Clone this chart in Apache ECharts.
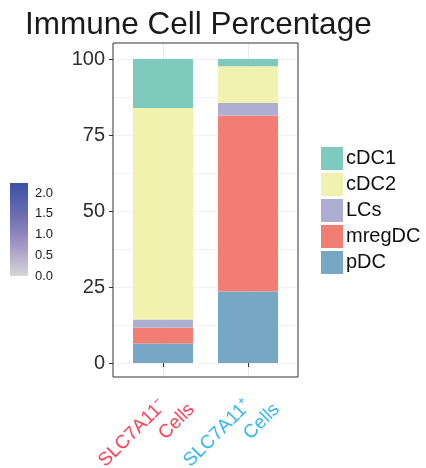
<!DOCTYPE html>
<html>
<head>
<meta charset="utf-8">
<script src="https://cdn.jsdelivr.net/npm/echarts@6/dist/echarts.min.js"></script>
<style>
  html, body { margin: 0; padding: 0; background: #ffffff; }
  #chart { width: 426px; height: 468px; }
</style>
</head>
<body>
<div id="chart"></div>
<script>
// Sample groups on the x axis (first line, second line)
const groupNames = ['SLC7A11\u207B', 'SLC7A11\u207A'];
const groupSuffix = 'Cells';
const groupColors = ['#FF3F55', '#33B6F2'];

// Cell type shares (%) per group, stacked bottom to top
const pDC    = [6.4, 23.5];
const mregDC = [5.2, 57.9];
const LCs    = [2.7, 4.1];
const cDC2   = [69.6, 12.1];
const cDC1   = [16.1, 2.4];

// Axis ticks
const yTicks = [0, 25, 50, 75, 100];
const colorbarTicks = [0, 0.5, 1, 1.5, 2];

const cellTypes = [
  { name: 'pDC',    values: pDC,    color: '#76A8C5' },
  { name: 'mregDC', values: mregDC, color: '#F27D72' },
  { name: 'LCs',    values: LCs,    color: '#AEAED2' },
  { name: 'cDC2',   values: cDC2,   color: '#F1F2AE' },
  { name: 'cDC1',   values: cDC1,   color: '#7ECBBD' }
];

const FONT = 'Liberation Sans, Arial, Helvetica, sans-serif';

const chart = echarts.init(document.getElementById('chart'), null, { renderer: 'canvas' });

const option = {
  animation: false,
  backgroundColor: '#ffffff',
  title: {
    text: 'Immune Cell Percentage',
    left: 20,
    top: 4,
    textStyle: { fontFamily: FONT, fontSize: 31.5, fontWeight: 'normal', color: '#1a1a1a' }
  },
  legend: {
    orient: 'vertical',
    left: 321,
    top: 147,
    padding: 0,
    itemWidth: 22,
    itemHeight: 23,
    itemGap: 3,
    icon: 'rect',
    data: ['cDC1', 'cDC2', 'LCs', 'mregDC', 'pDC'],
    textStyle: { fontFamily: FONT, fontSize: 20, color: '#111111', padding: [0, 0, 0, -2] }
  },
  grid: [
    // 0: panel border
    { left: 113, top: 43, width: 185, height: 334, outerBoundsMode: 'none', show: true, borderColor: '#333333', borderWidth: 1, backgroundColor: 'transparent', z: 5 },
    // 1: y scale 0..100 with labels and horizontal grid lines
    { left: 113, top: 59, width: 185, height: 304, outerBoundsMode: 'none' },
    // 2: bars and category axis
    { left: 163, top: 43, width: 85, height: 334, outerBoundsMode: 'none' },
    // 3: colour bar
    {
      left: 10, top: 183, width: 18, height: 93, outerBoundsMode: 'none', show: true, borderWidth: 0,
      backgroundColor: new echarts.graphic.LinearGradient(0, 0, 0, 1, [
        { offset: 0, color: '#3A52A4' },
        { offset: 0.35, color: '#6E6DB2' },
        { offset: 0.65, color: '#A193C6' },
        { offset: 1, color: '#D6D6D6' }
      ])
    }
  ],
  xAxis: [
    { gridIndex: 0, type: 'value', show: false },
    { gridIndex: 1, type: 'value', show: false },
    {
      gridIndex: 2,
      type: 'category',
      data: groupNames,
      boundaryGap: false,
      axisLine: { show: false },
      axisTick: { show: true, length: 4, lineStyle: { color: '#333333' } },
      splitLine: { show: true, lineStyle: { color: '#EBEBEB', width: 1 } },
      axisLabel: {
        interval: 0,
        rotate: 45,
        margin: 1,
        align: 'right',
        verticalAlign: 'top',
        padding: [6, 0, 0, 0],
        fontFamily: FONT,
        fontSize: 19,
        lineHeight: 23,
        color: function (value, index) { return groupColors[index]; },
        formatter: function (value) { return '{a|' + value + '}\n{b|' + groupSuffix + '}'; },
        rich: {
          a: { fontFamily: FONT, fontSize: 19, lineHeight: 23, padding: [0, 18, 0, 0] },
          b: { fontFamily: FONT, fontSize: 19, lineHeight: 23 }
        }
      }
    },
    { gridIndex: 3, type: 'value', show: false }
  ],
  yAxis: [
    { gridIndex: 0, type: 'value', show: false },
    {
      gridIndex: 1,
      type: 'value',
      min: 0,
      max: 100,
      interval: 25,
      axisLine: { show: false },
      axisTick: { show: true, length: 4, lineStyle: { color: '#333333' } },
      axisLabel: {
        margin: 8,
        fontFamily: FONT,
        fontSize: 20,
        color: '#2e2e2e',
        formatter: function (v) { return yTicks.indexOf(v) >= 0 ? String(v) : ''; }
      },
      splitLine: { show: true, lineStyle: { color: '#EBEBEB', width: 1 } }
    },
    {
      gridIndex: 1,
      type: 'value',
      min: 0,
      max: 100,
      interval: 12.5,
      axisLine: { show: false },
      axisTick: { show: false },
      axisLabel: { show: false },
      splitLine: { show: true, lineStyle: { color: '#F2F2F2', width: 1 } }
    },
    {
      gridIndex: 2,
      type: 'value',
      min: -4.6,
      max: 105.26,
      show: false
    },
    {
      gridIndex: 3,
      type: 'value',
      position: 'right',
      min: 0,
      max: 2.24,
      interval: 0.5,
      axisLine: { show: false },
      axisTick: { show: true, inside: true, length: 4, lineStyle: { color: '#ffffff', width: 1 } },
      splitLine: { show: false },
      axisLabel: {
        showMaxLabel: false,
        margin: 7,
        fontFamily: FONT,
        fontSize: 13,
        color: '#1a1a1a',
        formatter: function (v) {
          return colorbarTicks.indexOf(v) >= 0 ? v.toFixed(1) : '';
        }
      }
    }
  ],
  series: cellTypes.map(function (c) {
    return {
      name: c.name,
      type: 'bar',
      xAxisIndex: 2,
      yAxisIndex: 3,
      stack: 'share',
      barWidth: 60,
      clip: false,
      itemStyle: { color: c.color },
      data: c.values
    };
  })
};

chart.setOption(option);
</script>
</body>
</html>
